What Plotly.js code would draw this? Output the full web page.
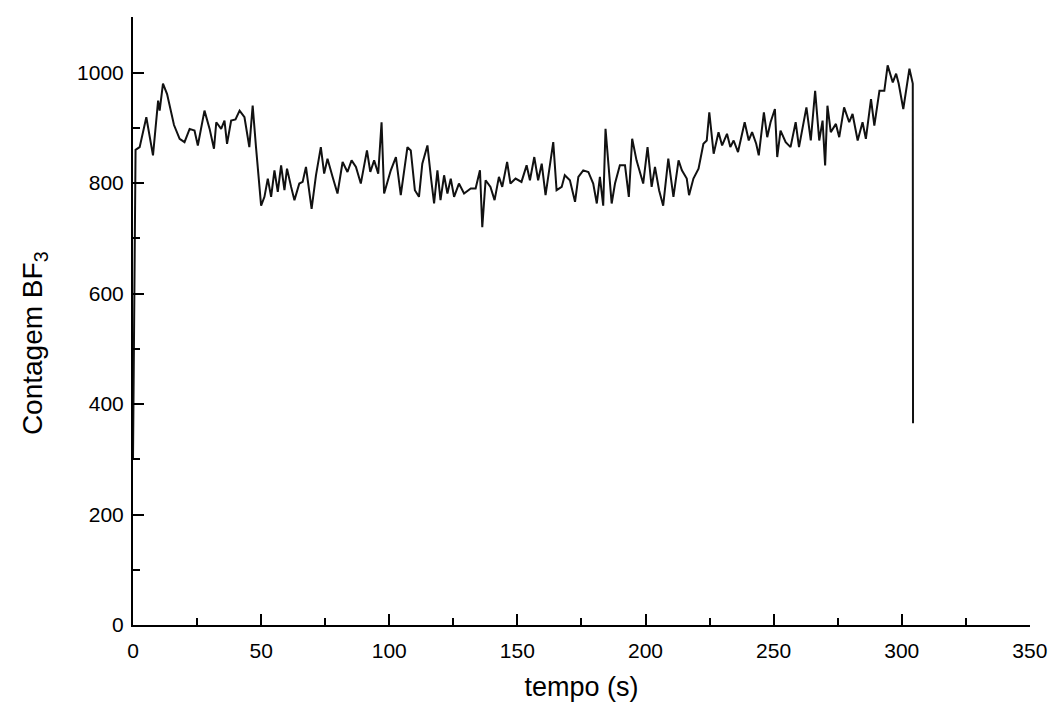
<!DOCTYPE html>
<html>
<head>
<meta charset="utf-8">
<script src="https://cdn.plot.ly/plotly-3.0.1.min.js"></script>
<style>
html,body{margin:0;padding:0;background:#fff;}
#chart{width:1055px;height:712px;}
</style>
</head>
<body>
<div id="chart"></div>
<script>
// time (s)
const tempo = [0, 1, 2.6, 5.2, 7.8, 9.8, 10.4, 11.7, 13.3, 16, 18.2, 20.1, 22.1, 24, 25.3, 27.9, 29.9, 31.6, 32.5, 34.4,
  35.7, 36.7, 38.3, 40, 41.6, 43.5, 45.4, 46.7, 48, 50, 51.3, 52.6, 53.9, 55.2, 56.5, 57.8, 59.1, 60.1, 61.7, 63,
  64.9, 66.2, 67.5, 69.7, 71.4, 73.3, 74.6, 75.9, 77.9, 79.8, 81.8, 83.7, 85.3, 87, 88.9, 91.3, 92.6, 94.1, 95.7, 97,
  98, 100.6, 102.6, 104.5, 107.1, 108.4, 110, 111.6, 112.9, 114.9, 116.4, 117.5, 118.8, 120, 121.4, 122.7, 124, 125.3, 127.2, 129.2,
  131.8, 133.7, 135.4, 136.3, 137.6, 139.5, 141.1, 142.8, 144.1, 146, 147.3, 149.3, 151.6, 153.6, 154.9, 156.6, 158.1, 159.5, 161, 162,
  164, 165.3, 167.3, 168.5, 170.5, 172.5, 173.8, 175.7, 177.7, 179.6, 181, 182.2, 183.5, 184.4, 186.8, 188.1, 190, 192, 193.5, 194.8,
  196.5, 199.1, 200.8, 202.4, 203.7, 205.3, 206.9, 208.9, 210.9, 212.9, 214.2, 216.1, 217, 218.7, 220.7, 222.6, 223.9, 224.9, 226.6, 228.5,
  229.9, 231.8, 233.1, 234.4, 236.1, 238.7, 240.3, 241.6, 243.2, 244.2, 246.2, 247.5, 248.8, 250.5, 251.4, 252.7, 254.7, 256.6, 258.6, 259.9,
  261.2, 262.8, 264.5, 266.2, 267.8, 269.1, 270.1, 271, 272.3, 274.3, 275.6, 277.5, 279.5, 280.8, 282.8, 284.7, 286, 288, 289.3, 291.3,
  293.2, 294.5, 296.5, 297.8, 298.8, 300.6, 303, 304.3, 304.4];
// BF3 counts
const contagem = [300, 860, 865, 919, 850, 949, 931, 980, 961, 905, 880, 874, 898, 895, 868, 931, 898, 862, 910, 898,
  913, 871, 913, 915, 931, 919, 865, 940, 865, 759, 775, 808, 775, 823, 784, 832, 787, 826, 793, 769,
  799, 802, 829, 753, 814, 865, 817, 844, 811, 781, 838, 820, 841, 829, 799, 859, 820, 841, 817, 910,
  781, 823, 847, 778, 865, 859, 787, 775, 835, 868, 805, 763, 823, 769, 814, 781, 808, 775, 799, 781,
  790, 790, 823, 720, 805, 793, 769, 811, 793, 838, 799, 808, 802, 832, 805, 847, 805, 835, 778, 811,
  874, 787, 793, 814, 805, 766, 811, 823, 820, 799, 763, 811, 759, 898, 763, 799, 832, 832, 775, 880,
  841, 799, 865, 793, 829, 787, 759, 844, 775, 841, 823, 808, 778, 808, 826, 871, 877, 928, 853, 892,
  868, 889, 865, 877, 856, 910, 877, 892, 871, 850, 928, 883, 910, 934, 847, 895, 874, 865, 910, 865,
  898, 937, 877, 967, 877, 913, 832, 940, 892, 907, 883, 937, 910, 925, 877, 910, 880, 952, 904, 967,
  967, 1013, 982, 998, 980, 934, 1007, 980, 365];

const xTicks = [0, 50, 100, 150, 200, 250, 300, 350];
const yTicks = [0, 200, 400, 600, 800, 1000];
const xTitle = 'tempo (s)';
const yTitle = 'Contagem BF<sub>3</sub>';

const trace = {
  x: tempo, y: contagem, type: 'scatter', mode: 'lines',
  line: {color: '#111', width: 2}, hoverinfo: 'skip'
};

const fam = 'Liberation Sans, Arial, sans-serif';
const axisFont = {family: fam, size: 21, color: '#000'};

const layout = {
  width: 1055, height: 712,
  margin: {l: 133, r: 25, t: 17, b: 87},
  paper_bgcolor: '#fff', plot_bgcolor: '#fff',
  showlegend: false,
  xaxis: {
    range: [0, 350.05], showgrid: false, zeroline: false,
    showline: true, linecolor: '#000', linewidth: 2,
    ticks: 'inside', ticklen: 11, tickwidth: 2, tickcolor: '#000',
    tickmode: 'array', tickvals: xTicks, ticktext: xTicks.map(String),
    minor: {dtick: 25, tick0: 0, ticks: 'inside', ticklen: 7, tickwidth: 2, tickcolor: '#000', showgrid: false},
    tickfont: axisFont, ticklabelstandoff: 6,
    title: {text: xTitle, font: {family: fam, size: 27, color: '#000'}, standoff: 16}
  },
  yaxis: {
    range: [0, 1100.5], showgrid: false, zeroline: false,
    showline: true, linecolor: '#000', linewidth: 2,
    ticks: 'inside', ticklen: 11, tickwidth: 2, tickcolor: '#000',
    tickmode: 'array', tickvals: yTicks, ticktext: yTicks.map(String),
    minor: {dtick: 100, tick0: 0, ticks: 'inside', ticklen: 7, tickwidth: 2, tickcolor: '#000', showgrid: false},
    tickfont: axisFont, ticklabelstandoff: 3
  },
  annotations: [{
    text: yTitle, textangle: -90, showarrow: false,
    xref: 'paper', yref: 'paper', x: -0.109, y: 0.464,
    xanchor: 'center', yanchor: 'middle',
    font: {family: fam, size: 28, color: '#000'}
  }]
};

Plotly.newPlot('chart', [trace], layout, {displayModeBar: false, staticPlot: true});
</script>
</body>
</html>
